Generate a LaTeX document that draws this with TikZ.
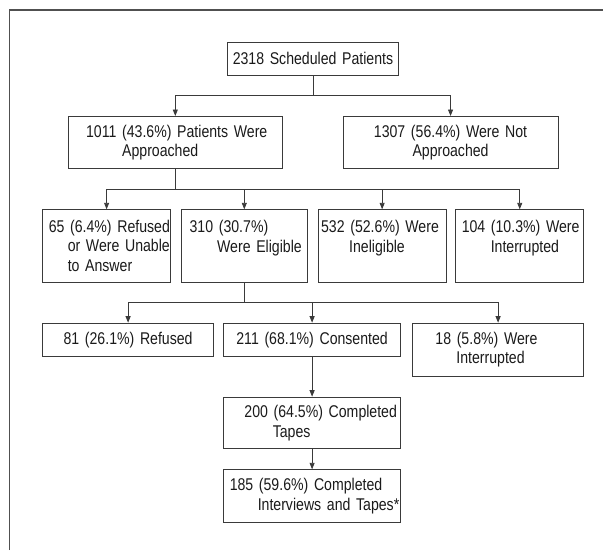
\documentclass[tikz,border=0pt]{standalone}
\usepackage{fontspec}
\setmainfont{Liberation Sans}[FakeStretch=0.83]
\usetikzlibrary{arrows.meta}
\definecolor{ln}{HTML}{3A3A3A}
\definecolor{fr}{HTML}{505050}
\definecolor{tx}{HTML}{1A1A1A}
\begin{document}
\begin{tikzpicture}[x=1pt,y=-1pt,
  box/.style={draw=ln, line width=0.9pt, inner xsep=0pt, inner ysep=2pt,
    anchor=north west, font=\fontsize{17}{19.5}\selectfont, text=tx},
  lbox/.style={box, align=left},
  cbox/.style={box, align=center},
  conn/.style={draw=ln, line width=0.9pt},
  arr/.style={conn, -{Triangle[length=6.5pt,width=5pt]}}]
\useasboundingbox (0,0) rectangle (603,550);
\draw[fr, line width=1.6pt] (9.6,550) -- (9.6,10) -- (603,10);

\node[cbox, text width=171pt, minimum height=33.3pt] (top) at (227,41.7) {2318 Scheduled Patients};

\node[lbox, text width=214.3pt, minimum height=52pt] (A) at (67.7,116)
  {\hspace*{18pt}1011 (43.6\%) Patients Were\\\hspace*{54pt}Approached};
\node[cbox, text width=215.2pt, minimum height=52pt] (B) at (342.5,116)
  {1307 (56.4\%) Were Not\\Approached};

\node[lbox, text width=127.7pt, minimum height=72.2pt] (C) at (42.3,209.3)
  {\hspace*{6pt}65 (6.4\%) Refused\\\hspace*{25pt}or Were Unable\\\hspace*{25pt}to Answer};
\node[lbox, text width=126.3pt, minimum height=72.2pt] (D) at (180.7,209.3)
  {\hspace*{8.5pt}310 (30.7\%)\\\hspace*{36pt}Were Eligible\\\mbox{}};
\node[lbox, text width=128pt, minimum height=72.2pt] (E) at (317.7,209.3)
  {\hspace*{3pt}532 (52.6\%) Were\\\hspace*{31pt}Ineligible\\\mbox{}};
\node[lbox, text width=128pt, minimum height=72.2pt] (F) at (455.3,209.3)
  {\hspace*{6pt}104 (10.3\%) Were\\\hspace*{35pt}Interrupted\\\mbox{}};

\node[cbox, text width=170.7pt, minimum height=33.3pt] (G) at (42.3,322.7) {81 (26.1\%) Refused};
\node[cbox, text width=176.7pt, minimum height=33.3pt] (H) at (223.3,322.7) {211 (68.1\%) Consented};
\node[lbox, text width=171.3pt, minimum height=53.3pt] (I) at (412,322.7)
  {\hspace*{23pt}18 (5.8\%) Were\\\hspace*{44pt}Interrupted};

\node[lbox, text width=176.7pt, minimum height=51.6pt] (J) at (223.3,396.7)
  {\hspace*{20.7pt}200 (64.5\%) Completed\\\hspace*{49pt}Tapes};
\node[lbox, text width=176.7pt, minimum height=52.4pt] (K) at (223.3,469.3)
  {\hspace*{6pt}185 (59.6\%) Completed\\\hspace*{34pt}Interviews and Tapes*};

\path (top.south) ++(0,19.7) coordinate (b1);
\path (A.south) ++(0,20.5) coordinate (b2);
\path (D.south) ++(0,20.5) coordinate (b3);

\draw[conn] (top) -- (b1);
\foreach \n in {A,B} \draw[arr] (b1) -| (\n);
\draw[conn] (A) -- (b2);
\foreach \n in {C,D,E,F} \draw[arr] (b2) -| (\n);
\draw[conn] (D) -- (b3);
\foreach \n in {G,H,I} \draw[arr] (b3) -| (\n);
\draw[arr] (H) -- (J);
\draw[arr] (J) -- (K);
\end{tikzpicture}
\end{document}
